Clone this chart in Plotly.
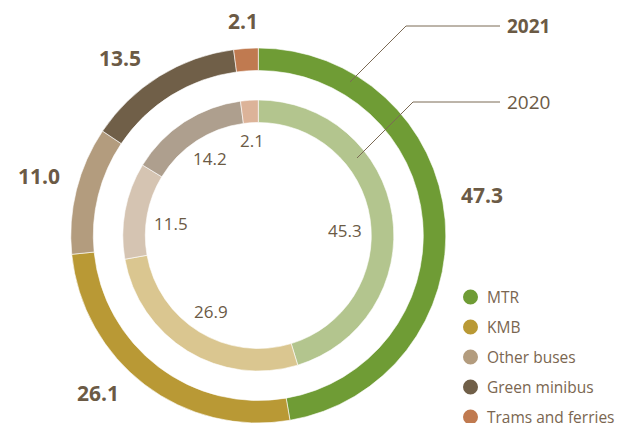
import plotly.graph_objects as go

# ---------------- data ----------------
categories = ["MTR", "KMB", "Other buses", "Green minibus", "Trams and ferries"]
values_2021 = [47.3, 26.1, 11.0, 13.5, 2.1]
values_2020 = [45.3, 26.9, 11.5, 14.2, 2.1]
labels_2021 = ["47.3", "26.1", "11.0", "13.5", "2.1"]
labels_2020 = ["45.3", "26.9", "11.5", "14.2", "2.1"]
colors_2021 = ["#6f9c35", "#b99935", "#b39c7e", "#705f48", "#c07a50"]
colors_2020 = ["#b3c58e", "#dac690", "#d5c4b2", "#ae9f8e", "#dcb399"]
year_outer = "2021"
year_inner = "2020"

# ---------------- layout constants (pixels) ----------------
W, H = 621, 423
CX, CY = 258.3, 235.5
R_OUT, R_IN = 187.5, 135.5
THICK = 22.5
TEXT = "#6b5a45"
FONT = "Open Sans"

# label anchor positions (pixels) for outer / inner ring values
pos_out = [(482, 195), (98, 393), (39, 176), (120, 58), (243, 21)]
pos_in = [(345, 230), (211, 311), (171, 223), (210, 158), (252, 141)]

# legend placement (pixels)
LEG_X, LEG_Y0, LEG_DY, LEG_R = 470.5, 297, 30, 7.5


def px(x):
    return x / W


def py(y):
    return 1 - y / H


def dom(r):
    return dict(x=[px(CX - r), px(CX + r)], y=[max(0, py(CY + r)), py(CY - r)])


fig = go.Figure()

fig.add_trace(go.Pie(
    labels=categories, values=values_2021, sort=False, direction="clockwise",
    rotation=0, hole=(R_OUT - THICK) / R_OUT, domain=dom(R_OUT),
    marker=dict(colors=colors_2021, line=dict(color="white", width=0.6)),
    textinfo="none", hoverinfo="label+value", showlegend=False, name=year_outer,
))
fig.add_trace(go.Pie(
    labels=categories, values=values_2020, sort=False, direction="clockwise",
    rotation=0, hole=(R_IN - THICK) / R_IN, domain=dom(R_IN),
    marker=dict(colors=colors_2020, line=dict(color="white", width=0.6)),
    textinfo="none", hoverinfo="label+value", showlegend=False, name=year_inner,
))

annotations = []
for (x, y), t in zip(pos_out, labels_2021):
    annotations.append(dict(x=px(x), y=py(y), text=f"<b>{t}</b>", showarrow=False,
                            xref="paper", yref="paper", xanchor="center", yanchor="middle",
                            font=dict(family=FONT, size=21, color=TEXT)))
for (x, y), t in zip(pos_in, labels_2020):
    annotations.append(dict(x=px(x), y=py(y), text=t, showarrow=False,
                            xref="paper", yref="paper", xanchor="center", yanchor="middle",
                            font=dict(family=FONT, size=17, color=TEXT)))
annotations.append(dict(x=px(505), y=py(26), text=f"<b>{year_outer}</b>", showarrow=False,
                        xref="paper", yref="paper", xanchor="left", yanchor="middle",
                        font=dict(family=FONT, size=19, color=TEXT)))
annotations.append(dict(x=px(505), y=py(102), text=year_inner, showarrow=False,
                        xref="paper", yref="paper", xanchor="left", yanchor="middle",
                        font=dict(family=FONT, size=19, color=TEXT)))

line_style = dict(color="#7b6a55", width=1)
shapes = [
    dict(type="path", xref="paper", yref="paper", line=line_style,
         path=f"M {px(350)},{py(82)} L {px(406)},{py(26)} L {px(500)},{py(26)}"),
    dict(type="path", xref="paper", yref="paper", line=line_style,
         path=f"M {px(357)},{py(158)} L {px(413)},{py(102)} L {px(500)},{py(102)}"),
]

# legend: circle markers + text
for i, (c, col) in enumerate(zip(categories, colors_2021)):
    yc = LEG_Y0 + i * LEG_DY
    shapes.append(dict(type="circle", xref="paper", yref="paper",
                       x0=px(LEG_X - LEG_R), x1=px(LEG_X + LEG_R),
                       y0=py(yc + LEG_R), y1=py(yc - LEG_R),
                       fillcolor=col, line=dict(width=0)))
    annotations.append(dict(x=px(LEG_X + 14), y=py(yc), text=c, showarrow=False,
                            xref="paper", yref="paper", xanchor="left", yanchor="middle",
                            font=dict(family=FONT, size=15.5, color="#7a6650")))

fig.update_layout(
    width=W, height=H, margin=dict(l=0, r=0, t=0, b=0, autoexpand=False),
    paper_bgcolor="white", plot_bgcolor="white",
    xaxis=dict(visible=False), yaxis=dict(visible=False),
    annotations=annotations, shapes=shapes,
    showlegend=False,
)

fig.write_html("out.html", config={"displayModeBar": False},
               post_script="document.body.style.margin='0px';document.body.style.overflow='hidden';")
